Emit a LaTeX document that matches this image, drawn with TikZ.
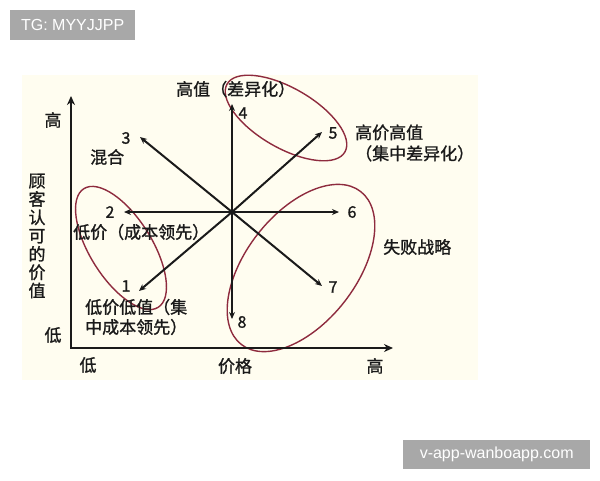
\documentclass[tikz,border=0pt]{standalone}
\usepackage{fontspec}
\setmainfont{Noto Sans CJK SC}[RawFeature={embolden=1.2}]
\newfontfamily\wmfont{Liberation Sans}
\usetikzlibrary{arrows.meta}
\definecolor{cream}{HTML}{FFFDF0}
\definecolor{ringred}{HTML}{8E2B3E}
\definecolor{wmgray}{HTML}{A8A8A8}
\definecolor{ink}{HTML}{1A1A1A}
\begin{document}
\begin{tikzpicture}[x=1pt,y=-1pt,
  lbl/.style={font=\fontsize{17}{20}\selectfont, text=ink, inner sep=0pt},
  num/.style={font=\fontsize{16}{19}\selectfont, text=ink, inner sep=0pt},
  ray/.style={draw=ink, line width=2pt, -{Stealth[length=7pt,width=6pt]}},
  axisline/.style={draw=ink, line width=2.2pt, line join=miter, {Stealth[length=9pt,width=8pt]}-{Stealth[length=9pt,width=8pt]}},
  ring/.style={draw=ringred, line width=1.4pt},
  wm/.style={fill=wmgray, text=white, font=\wmfont\fontsize{16}{19}\selectfont, inner sep=0pt, anchor=north west}]
\useasboundingbox (0,0) rectangle (600,480);
\fill[white] (0,0) rectangle (600,480);
\fill[cream] (22,75) rectangle (478,380);

% watermarks
\node[wm, minimum width=125pt, minimum height=30pt] (tg) at (10,10) {TG: MYYJJPP};
\node[wm, minimum width=187pt, minimum height=29pt] (site) at (403,440) {v-app-wanboapp.com};

% ellipses
\draw[ring, rotate around={-30:(286,118)}] (286,118) ellipse [x radius=68pt, y radius=30pt];
\draw[ring, rotate around={-58:(121,248)}] (121,248) ellipse [x radius=70pt, y radius=31pt];
\draw[ring, rotate around={52:(301,268)}] (301,268) ellipse [x radius=97pt, y radius=55pt];

% axes
\coordinate (org) at (71,348);
\coordinate (ytip) at (71,96);
\coordinate (xtip) at (393,348);
\draw[axisline] (ytip) -- (org) -- (xtip);

% rays
\coordinate (O) at (232,212);
\coordinate (t1) at (139,291);
\coordinate (t2) at (124,212);
\coordinate (t3) at (140,137);
\coordinate (t4) at (232,104);
\coordinate (t5) at (322,132);
\coordinate (t6) at (339,212);
\coordinate (t7) at (322,286);
\coordinate (t8) at (232,319);
\foreach \t in {t1,t2,t3,t4,t5,t6,t7,t8} \draw[ray] (O) -- (\t);

% numbers
\node[num] (n1) at (126,286) {1};
\node[num] (n2) at (110,212) {2};
\node[num] (n3) at (126,138) {3};
\node[num] (n4) at (243,113) {4};
\node[num] (n5) at (333,133) {5};
\node[num] (n6) at (352,212) {6};
\node[num] (n7) at (333,287) {7};
\node[num] (n8) at (242,322) {8};

% labels
\node[lbl, anchor=west] (topl) at (176,89) {高值（差异化）};
\node[lbl, anchor=west, align=left, font=\fontsize{17}{21}\selectfont] (hphv) at (355,143) {高价高值\\（集中差异化）};
\node[lbl, anchor=west] (mix) at (90,157) {混合};
\node[lbl, anchor=west] (lowp) at (73,232) {低价（成本领先）};
\node[lbl, anchor=west] (fail) at (383,247) {失败战略};
\node[lbl, anchor=west, align=left, font=\fontsize{17}{20}\selectfont] (lplv) at (85,317) {低价低值（集\\中成本领先）};

% axis labels
\node[lbl] (yhi) at (53,120) {高};
\node[lbl] (ylo) at (53,335) {低};
\node[lbl] (xlo) at (88,365) {低};
\node[lbl] (xmid) at (235,366) {价格};
\node[lbl] (xhi) at (375,366) {高};
\node[lbl, align=center, font=\fontsize{17}{18.3}\selectfont] (vlab) at (37,236) {顾\\客\\认\\可\\的\\价\\值};
\end{tikzpicture}
\end{document}
